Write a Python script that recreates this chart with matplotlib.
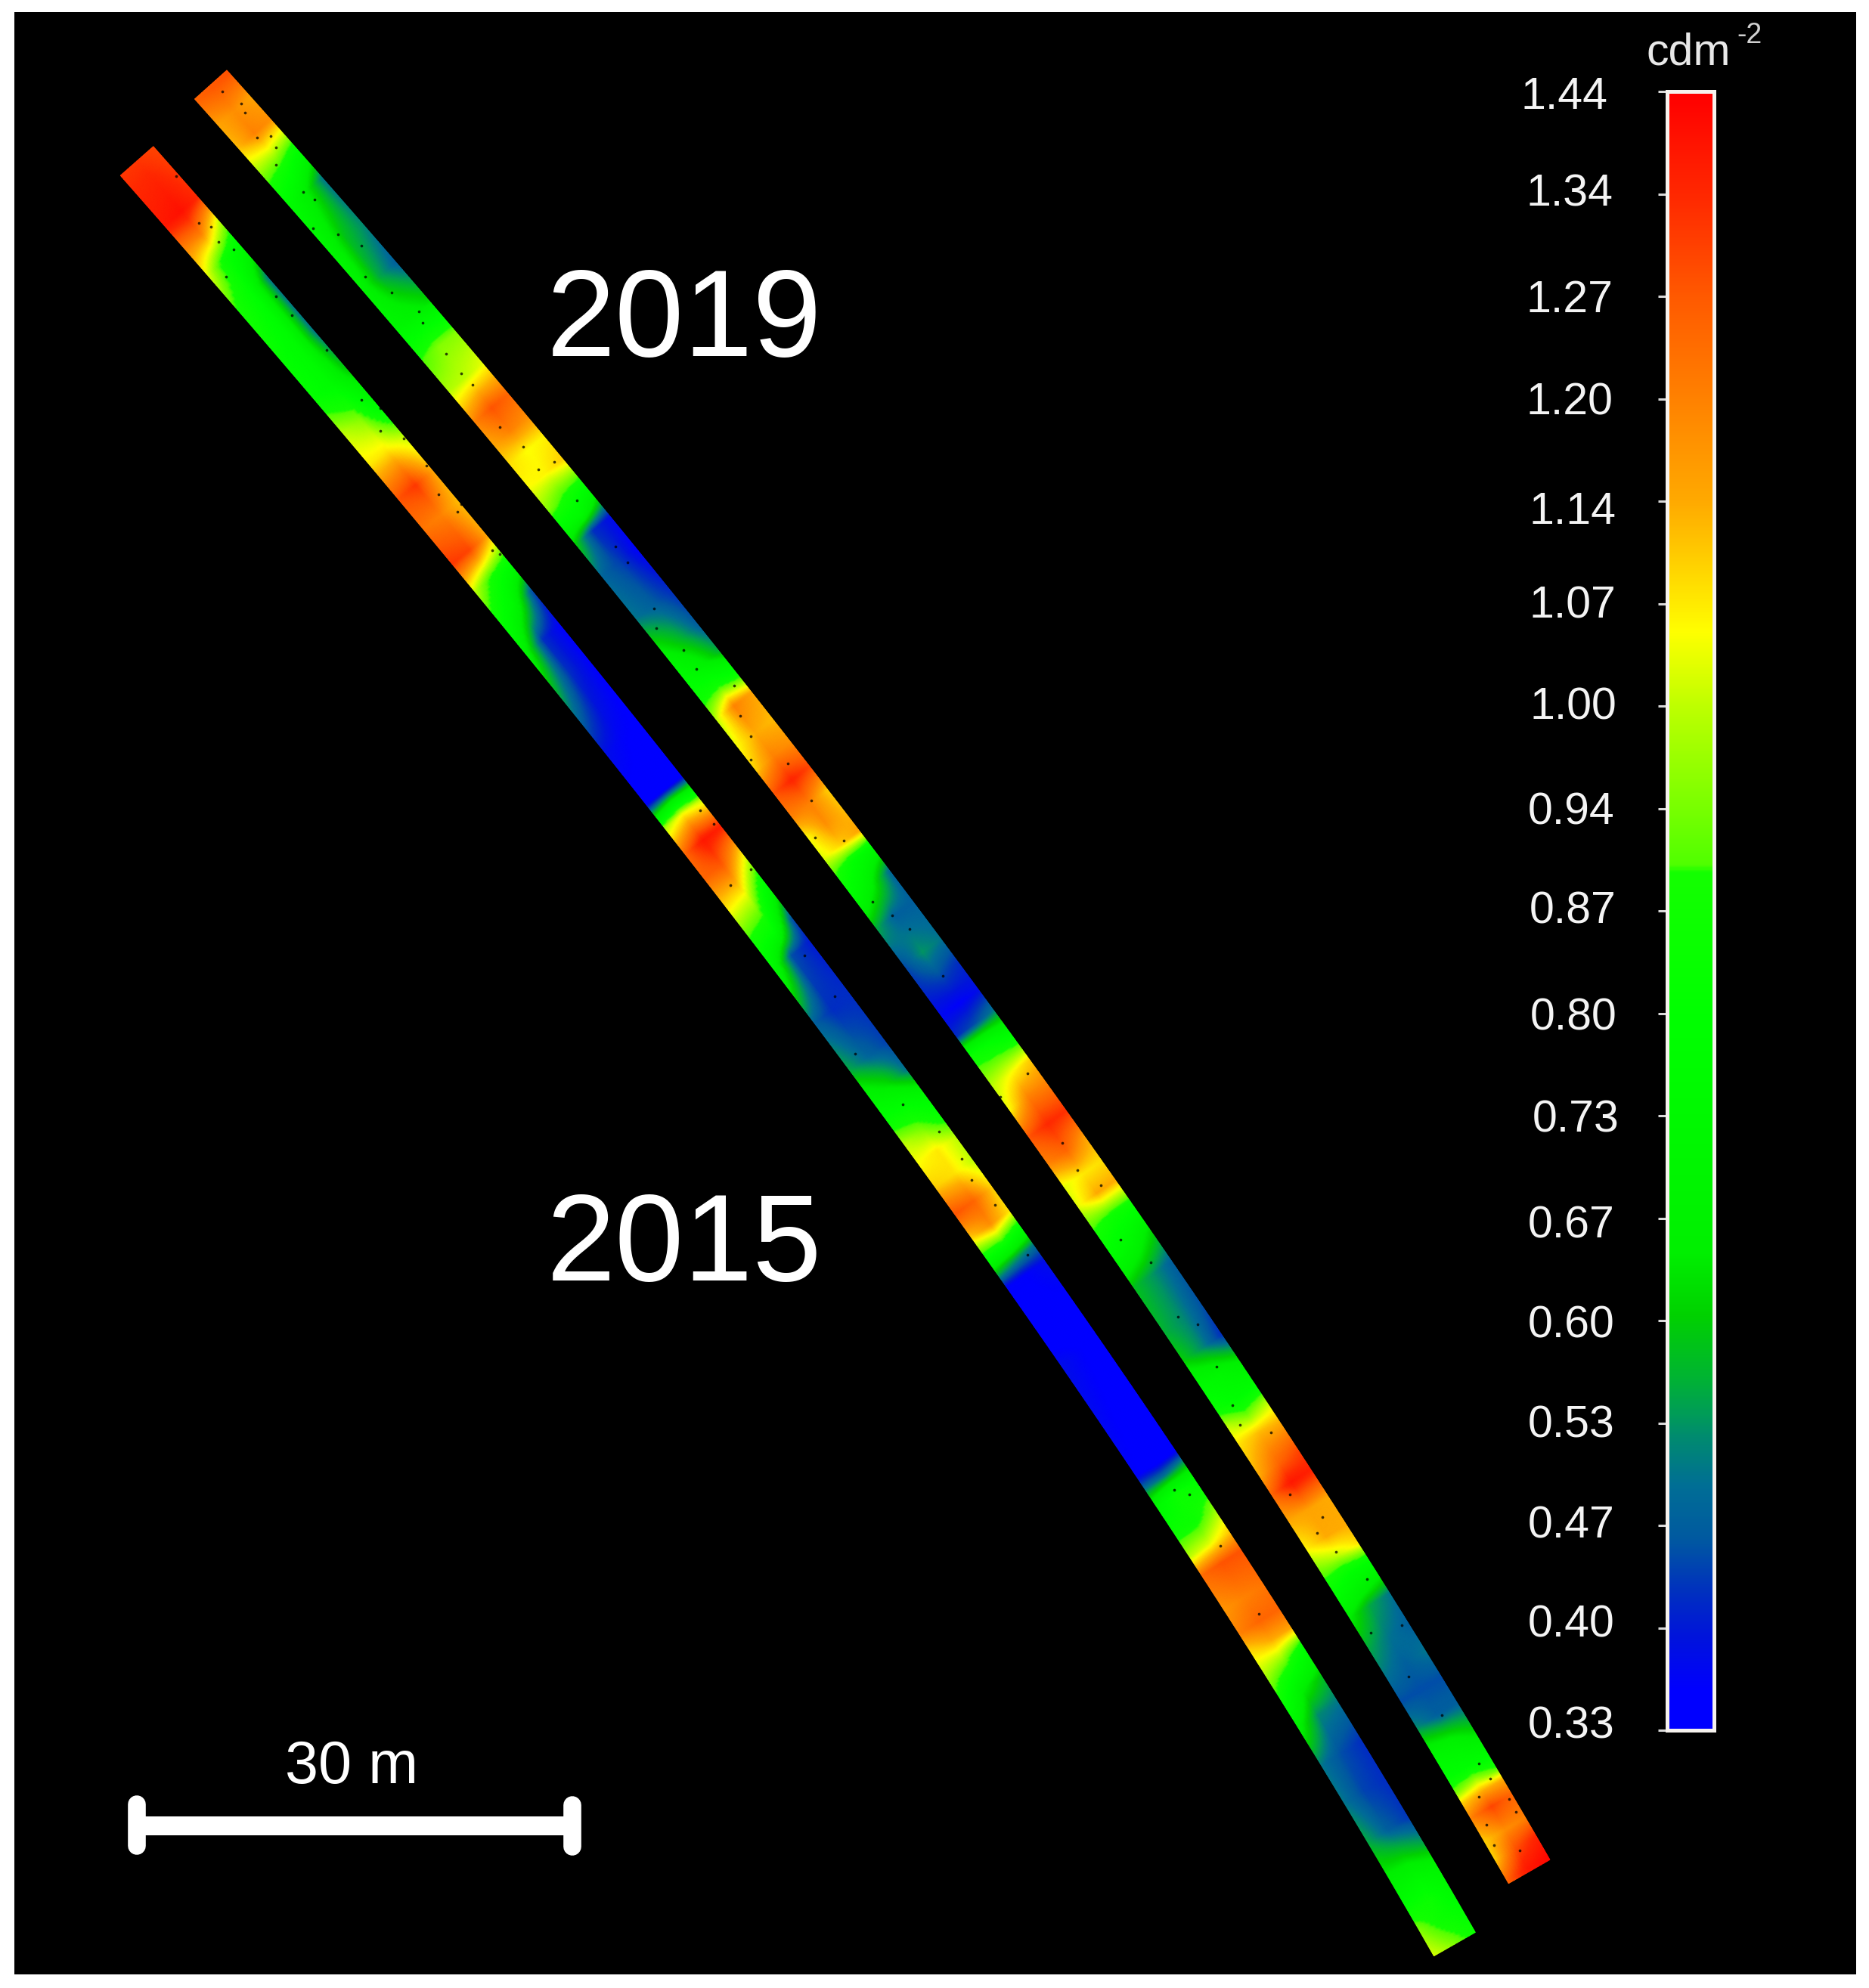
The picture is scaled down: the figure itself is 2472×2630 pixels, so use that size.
import numpy as np
import matplotlib
matplotlib.use("Agg")
import matplotlib.pyplot as plt
from matplotlib.colors import LinearSegmentedColormap, FuncNorm
from matplotlib.patches import Rectangle

plt.rcParams['font.family'] = ['Liberation Sans', 'DejaVu Sans']

W, H = 2472, 2630

# ---- colour scale ----
tick_values = [0.33, 0.40, 0.47, 0.53, 0.60, 0.67, 0.73, 0.80, 0.87, 0.94,
               1.00, 1.07, 1.14, 1.20, 1.27, 1.34, 1.44]
tick_labels = ['0.33', '0.40', '0.47', '0.53', '0.60', '0.67', '0.73', '0.80', '0.87', '0.94',
               '1.00', '1.07', '1.14', '1.20', '1.27', '1.34', '1.44']
label_x = [2078, 2078, 2078, 2078, 2078, 2078, 2084, 2081, 2080, 2078,
           2081, 2080, 2080, 2076, 2076, 2076, 2069]
label_y = [2284, 2150, 2019, 1886, 1754, 1622, 1482, 1347, 1206, 1075,
           936, 802, 677, 533, 397, 257, 128]
cmap_pos = [0.0, 0.38, 0.90, 1.36, 1.87, 2.37, 2.87, 3.06, 3.44, 4.05,
            4.67, 6.92, 8.38, 8.45, 9.0, 10.0, 10.73, 11.0, 12.0, 13.0,
            14.0, 15.0, 16.0]
cmap_rgb = [(0, 0, 255), (0, 0, 255), (0, 20, 220), (0, 50, 190), (0, 90, 160), (0, 110, 150),
            (0, 140, 110), (0, 155, 90), (0, 180, 50), (0, 210, 0),
            (0, 240, 0), (0, 255, 0), (20, 255, 0), (80, 255, 0), (120, 255, 0), (190, 255, 0),
            (255, 255, 0), (255, 235, 0), (255, 170, 0), (255, 130, 0),
            (255, 90, 0), (255, 40, 0), (255, 0, 0)]

# ---- 2015 strip: centre path and luminance at lower edge / centre / upper edge ----
path15_x = [183, 570, 948, 1291, 1593, 1925]
path15_y = [213, 674, 1127, 1593, 2038, 2572]
st15 = [213, 280, 310, 345, 386, 458, 509, 555, 596, 642, 682, 728, 764, 800, 846, 889, 979, 1045,
        1068, 1077, 1112, 1144, 1188, 1233, 1264, 1336, 1398, 1434, 1470, 1496, 1522, 1553, 1589,
        1620, 1645, 1665, 1686, 1757, 1788, 1936, 1953, 1977, 2012, 2043, 2068, 2114, 2145, 2170,
        2196, 2235, 2269, 2320, 2370, 2421, 2455, 2488, 2515, 2539, 2573]
low15 = [1.32, 1.38, 1.20, 1.03, 0.90, 0.82, 0.82, 1.00, 1.07, 1.28, 1.22, 1.32, 1.00, 0.85, 0.70, 0.58, 0.38, 0.34,
         0.75, 0.98, 1.25, 1.25, 1.05, 0.85, 0.75, 0.47, 0.55, 0.70, 0.85, 1.00, 1.05, 1.10, 1.28,
         1.10, 0.85, 0.60, 0.36, 0.34, 0.38, 0.36, 0.50, 0.75, 0.85, 1.00, 1.24, 1.17, 1.20, 1.08,
         1.00, 0.85, 0.68, 0.50, 0.50, 0.55, 0.62, 0.72, 0.85, 0.95, 1.02]
mid15 = [1.32, 1.40, 1.20, 0.85, 0.80, 0.76, 0.76, 0.95, 1.07, 1.32, 1.20, 1.30, 0.87, 0.72, 0.42, 0.42, 0.36, 0.34,
         0.85, 1.05, 1.38, 1.27, 1.02, 0.80, 0.45, 0.42, 0.48, 0.62, 0.83, 0.95, 1.07, 1.08, 1.25,
         1.18, 0.85, 0.55, 0.36, 0.34, 0.36, 0.34, 0.50, 0.85, 0.85, 1.03, 1.28, 1.20, 1.25, 1.14,
         0.95, 0.66, 0.52, 0.45, 0.44, 0.47, 0.60, 0.75, 0.85, 0.85, 0.95]
upp15 = [1.30, 1.34, 1.02, 0.75, 0.50, 0.50, 0.60, 0.75, 1.00, 1.15, 1.12, 1.15, 0.80, 0.45, 0.36, 0.36, 0.35, 0.34,
         0.80, 1.00, 1.36, 1.10, 0.78, 0.45, 0.40, 0.42, 0.44, 0.50, 0.75, 0.85, 1.00, 1.00, 1.10,
         1.08, 0.75, 0.50, 0.38, 0.34, 0.34, 0.35, 0.55, 0.80, 0.95, 1.10, 1.28, 1.22, 1.25, 1.15,
         0.80, 0.58, 0.50, 0.42, 0.42, 0.43, 0.55, 0.70, 0.75, 0.80, 0.85]

# ---- 2019 strip ----
path19_x = [279, 654, 1046, 1389, 1707, 2023]
path19_y = [112, 545, 1031, 1489, 1962, 2476]
st19 = [116, 147, 177, 203, 223, 254, 315, 366, 417, 458, 499, 540, 570, 596, 626, 657, 682, 702, 744, 800,
        846, 880, 907, 934, 970, 1001, 1032, 1063, 1090, 1117, 1139, 1170, 1211, 1260, 1291, 1327, 1354,
        1380, 1420, 1451, 1487, 1522, 1553, 1579, 1609, 1645, 1686, 1747, 1783, 1818, 1849, 1870, 1895,
        1936, 1961, 1997, 2033, 2058, 2084, 2110, 2124, 2165, 2201, 2235, 2269, 2303, 2336, 2357, 2370,
        2390, 2421, 2445, 2472]
low19 = [1.25, 1.15, 1.12, 1.00, 0.90, 0.76, 0.72, 0.70, 0.72, 0.90, 0.99, 1.20, 1.15, 1.08, 1.05, 0.95, 0.75, 0.60, 0.48, 0.50,
         0.66, 0.78, 0.85, 1.00, 1.05, 1.10, 1.28, 1.20, 1.05, 1.03, 0.90, 0.78, 0.55, 0.45, 0.42, 0.37, 0.42,
         0.85, 1.00, 1.05, 1.28, 1.20, 1.03, 1.03, 0.90, 0.78, 0.58, 0.56, 0.60, 0.75, 0.85, 1.00, 1.08,
         1.14, 1.25, 1.14, 1.06, 0.95, 0.85, 0.72, 0.65, 0.55, 0.50, 0.45, 0.52, 0.70, 0.80, 0.95, 1.10,
         1.20, 1.10, 1.10, 1.25]
mid19 = [1.27, 1.18, 1.20, 1.00, 0.85, 0.66, 0.58, 0.55, 0.68, 0.95, 1.00, 1.28, 1.20, 1.05, 1.06, 0.88, 0.75, 0.42, 0.44, 0.47,
         0.57, 0.68, 0.87, 1.20, 1.14, 1.20, 1.35, 1.20, 1.18, 1.10, 0.80, 0.66, 0.47, 0.53, 0.45, 0.36, 0.45,
         0.80, 1.05, 1.20, 1.34, 1.25, 1.07, 1.14, 0.85, 0.72, 0.53, 0.52, 0.52, 0.72, 0.78, 0.92, 1.12,
         1.25, 1.38, 1.15, 1.14, 1.00, 0.78, 0.65, 0.55, 0.50, 0.47, 0.45, 0.47, 0.67, 0.78, 1.00, 1.14,
         1.30, 1.18, 1.28, 1.38]
upp19 = [1.28, 1.15, 1.18, 0.95, 0.75, 0.50, 0.52, 0.47, 0.62, 0.95, 1.03, 1.25, 1.18, 1.06, 1.10, 0.85, 0.60, 0.38, 0.36, 0.42,
         0.47, 0.56, 0.80, 1.15, 1.12, 1.18, 1.30, 1.10, 1.12, 1.15, 0.75, 0.48, 0.47, 0.50, 0.42, 0.38, 0.50,
         0.72, 1.10, 1.20, 1.33, 1.15, 1.08, 1.14, 0.85, 0.62, 0.47, 0.45, 0.42, 0.65, 0.78, 0.98, 1.12,
         1.30, 1.36, 1.14, 1.14, 1.08, 0.78, 0.60, 0.50, 0.47, 0.50, 0.45, 0.47, 0.60, 0.75, 0.92, 1.14,
         1.25, 1.20, 1.35, 1.42]

# ---- black gaps in the point cloud, read by eye from the crops ----
gaps_x = [294, 319, 324, 340, 358, 365, 365, 401, 416, 414, 447, 478, 483, 518, 559, 554, 590, 610, 625, 661, 692,
          712, 733, 763, 814, 830, 865,
          233, 263, 279, 289, 309, 299, 365, 386, 432, 478, 503, 503, 534, 564, 580, 605, 610, 651, 661,
          868, 904, 921, 971, 979, 993, 993, 1042, 1073, 1078, 1116, 1154, 1180, 1203, 1247,
          926, 944, 993, 966, 1064, 1104, 1131, 1194,
          1323, 1359, 1405, 1456, 1425, 1482, 1522, 1558, 1584, 1609, 1630, 1640, 1681, 1706, 1749, 1742, 1767,
          1808, 1813, 1854,
          1242, 1272, 1285, 1316, 1359, 1553, 1573, 1614, 1665,
          1863, 1907, 1956, 1971, 1956, 1996, 1966, 2005, 2010, 1976]
gaps_y = [121, 137, 149, 182, 180, 195, 218, 254, 264, 302, 310, 325, 366, 387, 427, 412, 468, 494, 509, 565, 591,
          621, 611, 662, 723, 744, 805,
          233, 295, 300, 320, 330, 366, 392, 417, 463, 529, 540, 570, 580, 616, 654, 677, 667, 728, 733,
          831, 860, 885, 907, 947, 974, 1005, 1010, 1059, 1108, 1112, 1193, 1211, 1229, 1291,
          1072, 1090, 1150, 1171, 1264, 1318, 1394, 1461,
          1451, 1420, 1512, 1568, 1548, 1640, 1670, 1742, 1752, 1808, 1859, 1885, 1895, 1977, 2007, 2028, 2053,
          2089, 2160, 2150,
          1497, 1533, 1561, 1594, 1660, 1971, 1977, 2045, 2135,
          2218, 2269, 2333, 2353, 2377, 2380, 2414, 2397, 2448, 2441]

year_labels = ['2019', '2015']
scale_label = '30 m'
unit_label = 'cdm'
unit_power = '-2'

# ---- figure ----
fig = plt.figure(figsize=(W / 100, H / 100), dpi=100, facecolor='white')
ax = fig.add_axes([0, 0, 1, 1])
ax.set_xlim(0, W)
ax.set_ylim(H, 0)
ax.axis('off')
ax.add_patch(Rectangle((19, 16), 2436, 2596, facecolor='black', edgecolor='none', zorder=0))

cmap = LinearSegmentedColormap.from_list(
    'lum', [(p / 16, tuple(c / 255 for c in rgb)) for p, rgb in zip(cmap_pos, cmap_rgb)], N=1024)


def to_frac(v):
    return np.interp(v, tick_values, np.arange(17)) / 16


def from_frac(f):
    return np.interp(f, np.arange(17) / 16, tick_values)


norm = FuncNorm((to_frac, from_frac), vmin=0.33, vmax=1.44)


def draw_strip(px, py, st, low, mid, upp, w0, w1):
    coef = np.polyfit(py, px, 3)
    y0, y1 = py[0], py[-1]
    yy = np.linspace(y0, y1, 1400)
    xx = np.polyval(coef, yy)
    dx = np.polyval(np.polyder(coef), yy)
    length = np.hypot(dx, 1.0)
    # unit normal pointing to the upper right of the strip
    nx, ny = 1.0 / length, -dx / length
    half = np.linspace(w0, w1, yy.size) / 2
    across = np.linspace(-1, 1, 15)
    X = xx[:, None] + nx[:, None] * half[:, None] * across[None, :]
    Y = yy[:, None] + ny[:, None] * half[:, None] * across[None, :]
    rows = np.array([np.interp(yy, st, r) for r in (low, mid, upp)])
    C = np.array([np.interp(across, [-1, 0, 1], rows[:, i]) for i in range(yy.size)])
    ax.pcolormesh(X, Y, C, shading='gouraud', cmap=cmap, norm=norm, zorder=2, rasterized=True)


draw_strip(path15_x, path15_y, st15, low15, mid15, upp15, 58, 63)
draw_strip(path19_x, path19_y, st19, low19, mid19, upp19, 57, 63)
ax.scatter(gaps_x, gaps_y, s=7, color='black', alpha=0.75, linewidths=0, zorder=2.5)

ax.text(905, 429, year_labels[0], color='white', fontsize=118, ha='center', va='center', zorder=3)
ax.text(905, 1652, year_labels[1], color='white', fontsize=118, ha='center', va='center', zorder=3)

# scale bar
ax.plot([181, 181], [2387, 2442], color='white', lw=17, solid_capstyle='round', zorder=3)
ax.plot([757, 757], [2388, 2443], color='white', lw=17, solid_capstyle='round', zorder=3)
ax.plot([181, 757], [2415, 2415], color='white', lw=18, solid_capstyle='butt', zorder=3)
ax.text(465, 2338, scale_label, color='white', fontsize=57, ha='center', va='center', zorder=3)

# colour bar
ax.text(2178, 85, unit_label, color='#e8e8e8', fontsize=42.5, ha='left', va='baseline', zorder=3)
ax.text(2297, 57, unit_power, color='#d0d0d0', fontsize=27, ha='left', va='baseline', zorder=3)
for lx, ly, lab in zip(label_x, label_y, tick_labels):
    ax.text(lx, ly, lab, color='#f4f4f4', fontsize=42.5, ha='center', va='center', zorder=3)

cax = fig.add_axes([2204.5 / W, 1 - 2289 / H, (2266.5 - 2204.5) / W, (2289 - 121) / H])
grad = np.linspace(0, 16, 1200)[:, None]
cax.imshow(grad, origin='lower', aspect='auto', cmap=cmap, vmin=0, vmax=16, extent=[0, 1, 0, 16])
cax.set_xticks([])
cax.set_yticks(np.arange(17))
cax.set_yticklabels([])
cax.tick_params(axis='y', length=9, width=2.2, color='#d8d8d8', direction='out')
for sp in cax.spines.values():
    sp.set_color('#f6f2ee')
    sp.set_linewidth(3.6)

fig.savefig('out.png', dpi=100, facecolor='white')
